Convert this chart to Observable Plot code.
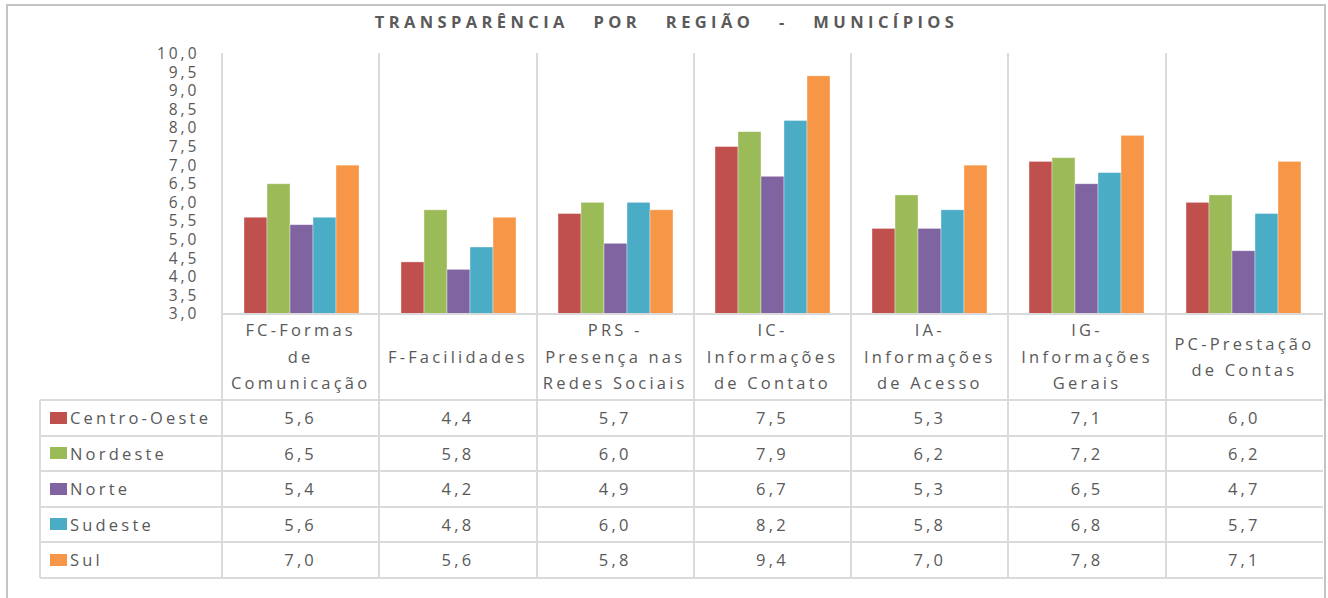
<!DOCTYPE html>
<html><head><meta charset="utf-8">
<script src="https://cdn.jsdelivr.net/npm/d3@7"></script>
<script src="https://cdn.jsdelivr.net/npm/@observablehq/plot@0.6"></script>
<style>
body{margin:0;background:#fff;}
#wrap{position:relative;width:1328px;height:598px;overflow:hidden;font-family:"Open Sans",sans-serif;color:#595959;}
#border{position:absolute;left:6px;top:4px;width:1320px;height:600px;border:2px solid #c4c4c4;box-sizing:border-box;}
#title{position:absolute;left:7px;width:1319px;top:10px;text-align:center;font-weight:bold;font-size:16.5px;letter-spacing:4.4px;word-spacing:16px;line-height:24px;color:#5a5a5a;}
#chart{position:absolute;left:0;top:0;}
#chart svg text{letter-spacing:3px;}
.cell{position:absolute;box-sizing:border-box;display:flex;align-items:center;justify-content:center;font-size:16.5px;letter-spacing:3.2px;white-space:nowrap;}
.hline,.vline{position:absolute;background:#dadada;}
.lines{display:flex;flex-direction:column;align-items:center;line-height:26.5px;text-align:center;}
.sw{display:inline-block;width:17px;height:12px;margin-right:3px;}
</style></head>
<body><div id="wrap"><div id="border"></div><div id="title">TRANSPARÊNCIA POR REGIÃO - MUNICÍPIOS</div><div id="chart"></div></div>
<script>
const categories = ["FC-Formas de Comunicação","F-Facilidades","PRS - Presença nas Redes Sociais","IC- Informações de Contato","IA- Informações de Acesso","IG- Informações Gerais","PC-Prestação de Contas"];
const categoryLines = [["FC-Formas","de","Comunicação"],["F-Facilidades"],["PRS -","Presença nas","Redes Sociais"],["IC-","Informações","de Contato"],["IA-","Informações","de Acesso"],["IG-","Informações","Gerais"],["PC-Prestação","de Contas"]];
const regions = ["Centro-Oeste","Nordeste","Norte","Sudeste","Sul"];
const colors = ["#C0504D","#9BBB59","#8064A2","#4BACC6","#F79646"];
const centroOeste = [5.6,4.4,5.7,7.5,5.3,7.1,6.0];
const nordeste    = [6.5,5.8,6.0,7.9,6.2,7.2,6.2];
const norte       = [5.4,4.2,4.9,6.7,5.3,6.5,4.7];
const sudeste     = [5.6,4.8,6.0,8.2,5.8,6.8,5.7];
const sul         = [7.0,5.6,5.8,9.4,7.0,7.8,7.1];
const yTicks = [3.0,3.5,4.0,4.5,5.0,5.5,6.0,6.5,7.0,7.5,8.0,8.5,9.0,9.5,10.0];

const series = [centroOeste, nordeste, norte, sudeste, sul];
const data = [];
categories.forEach((c, i) => regions.forEach((r, j) => data.push({category: c, region: r, value: series[j][i]})));
const fmt = v => v.toFixed(1).replace(".", ",");

const L = 222, R = 1323, cw = (R - L) / categories.length;
const chart = Plot.plot({
  width: 1328, height: 334,
  marginLeft: L, marginRight: 1328 - R, marginTop: 53.5, marginBottom: 20,
  style: {fontFamily: "Open Sans", fontSize: "15.5px", color: "#595959", background: "transparent"},
  fx: {domain: categories, padding: 0, axis: null},
  x: {domain: regions, paddingInner: 0, paddingOuter: 0.78, axis: null},
  y: {domain: [3, 10], ticks: yTicks, tickFormat: fmt, tickSize: 0, tickPadding: 24, label: null},
  color: {domain: regions, range: colors},
  marks: [
    Plot.barY(data, {fx: "category", x: "region", y1: 3, y2: "value", fill: "region", stroke: "white", strokeOpacity: 0.45, strokeWidth: 0.8})
  ]
});
document.getElementById("chart").appendChild(chart);

const wrap = document.getElementById("wrap");
function div(cls, st, html) { const d = document.createElement("div"); d.className = cls; Object.assign(d.style, st); if (html != null) d.innerHTML = html; wrap.appendChild(d); return d; }
const px = v => v + "px";
const hTop = 314, hBot = 400, rh = 35.5, tBot = hBot + rh * regions.length;
// header cells (category labels)
categories.forEach((c, i) => {
  div("cell", {left: px(L + i * cw), top: px(hTop), width: px(cw), height: px(hBot - hTop)},
      '<div class="lines">' + categoryLines[i].map(s => "<span>" + s + "</span>").join("") + "</div>");
});
// data table rows
regions.forEach((r, j) => {
  const top = hBot + j * rh;
  div("cell", {left: "40px", top: px(top), width: px(L - 40), height: px(rh), justifyContent: "flex-start", paddingLeft: "10px"},
      '<span class="sw" style="background:' + colors[j] + '"></span>' + r);
  categories.forEach((c, i) => div("cell", {left: px(L + i * cw), top: px(top), width: px(cw), height: px(rh)}, fmt(series[j][i])));
});
// grid lines
div("hline", {left: px(L), top: px(hTop - 1), width: px(R - L), height: "2px"});
for (let j = 0; j <= regions.length; j++) div("hline", {left: "40px", top: px(Math.round(hBot + j * rh) - 1), width: px(R - 40), height: "2px"});
for (let i = 0; i < categories.length; i++) div("vline", {left: px(Math.round(L + i * cw) - 1), top: "53px", width: "2px", height: px(tBot - 53)});
div("vline", {left: "39px", top: px(hBot), width: "2px", height: px(tBot - hBot)});
</script></body></html>
